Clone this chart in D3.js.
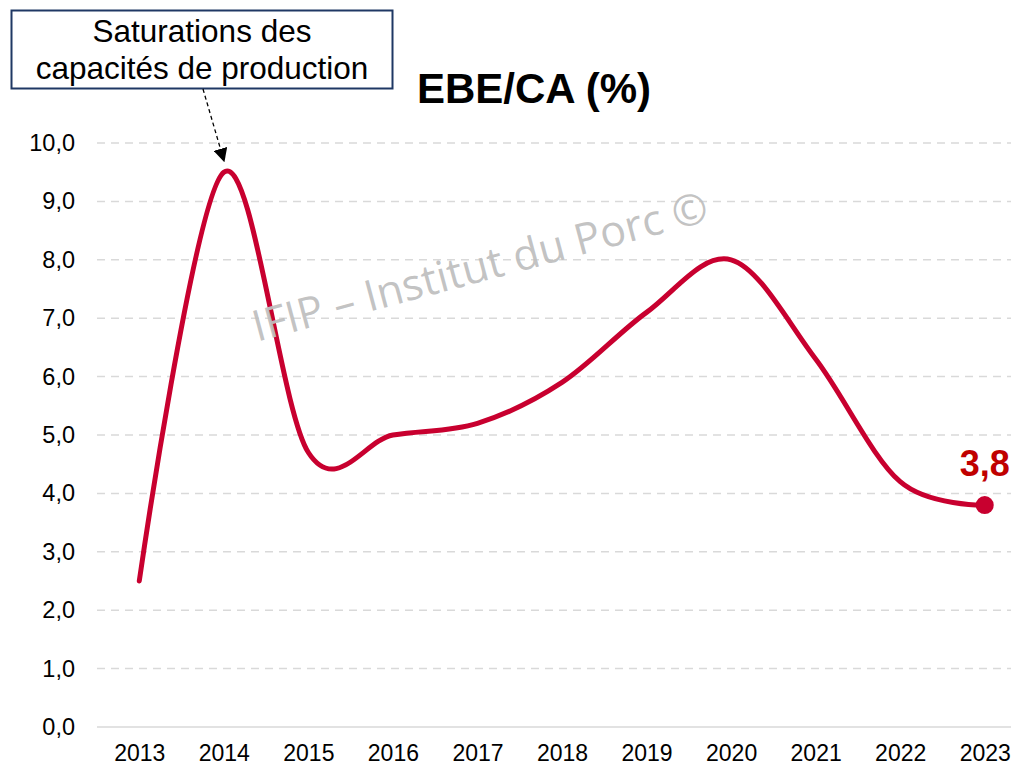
<!DOCTYPE html>
<html><head><meta charset="utf-8">
<script src="https://cdn.jsdelivr.net/npm/d3@7"></script>
<style>body{margin:0;background:#fff}svg{display:block;font-family:Arial,"Liberation Sans",sans-serif}</style>
</head><body>
<svg id="c" width="1011" height="766"></svg>
<script>
const years = ["2013","2014","2015","2016","2017","2018","2019","2020","2021","2022","2023"];
const ebeCa = [2.5, 9.5, 4.7, 5.0, 5.2, 5.9, 7.1, 8.0, 6.3, 4.2, 3.8];
const yTicks = [0,1,2,3,4,5,6,7,8,9,10];
const title = "EBE/CA (%)";
const annotationLines = ["Saturations des", "capacités de production"];
const watermark = "IFIP – Institut du Porc ©";

const svg = d3.select("#c");
const x = d3.scalePoint().domain(years).range([97, 1027]).padding(0.5);
const y = d3.scaleLinear().domain([0, 10]).range([727, 143]);
const fmt = v => d3.format(".1f")(v).replace(".", ",");

// grid
svg.append("g").selectAll("line").data(yTicks.filter(d => d > 0)).join("line")
  .attr("x1", 97).attr("x2", 1011).attr("y1", d => y(d)).attr("y2", d => y(d))
  .attr("stroke", "#d9d9d9").attr("stroke-width", 1.5).attr("stroke-dasharray", "8,6");
svg.append("line").attr("x1", 97).attr("x2", 1011).attr("y1", y(0)).attr("y2", y(0))
  .attr("stroke", "#d9d9d9").attr("stroke-width", 1.5);

// y axis
const ya = svg.append("g").attr("transform", "translate(75,0)")
  .call(d3.axisLeft(y).tickValues(yTicks).tickFormat(fmt).tickSize(0).tickPadding(0));
ya.select(".domain").remove();
ya.selectAll("text").attr("font-size", 23.5).attr("fill", "#000").attr("font-family", "Arial, 'Liberation Sans', sans-serif");

// x axis
const xa = svg.append("g").attr("transform", `translate(0,${y(0)})`)
  .call(d3.axisBottom(x).tickSize(0).tickPadding(17.5));
xa.select(".domain").remove();
xa.selectAll("text").attr("font-size", 23).attr("fill", "#000").attr("font-family", "Arial, 'Liberation Sans', sans-serif");

// line
const data = years.map((yr, i) => ({yr, v: ebeCa[i]}));
svg.append("path").datum(data)
  .attr("d", d3.line().x(d => x(d.yr)).y(d => y(d.v)).curve(d3.curveCatmullRom.alpha(0)))
  .attr("fill", "none").attr("stroke", "#c8002f").attr("stroke-width", 5).attr("stroke-linecap", "round");

const last = data[data.length - 1];
svg.append("circle").attr("cx", x(last.yr)).attr("cy", y(last.v)).attr("r", 9).attr("fill", "#c8002f");
svg.append("text").attr("x", x(last.yr)).attr("y", y(last.v) - 29)
  .attr("text-anchor", "middle").attr("font-size", 36).attr("font-weight", "bold").attr("fill", "#c00000")
  .text(fmt(last.v));

// title
svg.append("text").attr("x", 534).attr("y", 103).attr("text-anchor", "middle")
  .attr("font-size", 42).attr("font-weight", "bold").attr("fill", "#000").text(title);

// annotation box
svg.append("rect").attr("x", 11.5).attr("y", 10.5).attr("width", 381).attr("height", 78)
  .attr("fill", "#fff").attr("stroke", "#1f3864").attr("stroke-width", 2);
svg.append("g").selectAll("text").data(annotationLines).join("text")
  .attr("x", 202).attr("y", (d, i) => 42 + i * 37).attr("text-anchor", "middle")
  .attr("font-size", 31.5).attr("fill", "#000").text(d => d);

// arrow
svg.append("defs").append("marker").attr("id", "ah").attr("viewBox", "0 0 10 10")
  .attr("refX", 9).attr("refY", 5).attr("markerWidth", 14).attr("markerHeight", 14)
  .attr("markerUnits", "userSpaceOnUse").attr("orient", "auto")
  .append("path").attr("d", "M0,0L10,5L0,10Z").attr("fill", "#000");
svg.append("line").attr("x1", 203).attr("y1", 89).attr("x2", 224).attr("y2", 161)
  .attr("stroke", "#000").attr("stroke-width", 1.3).attr("stroke-dasharray", "4,3")
  .attr("marker-end", "url(#ah)");

// watermark
svg.append("text").attr("transform", "translate(484,281) rotate(-15)")
  .attr("text-anchor", "middle").attr("font-size", 43)
  .attr("font-family", "'Open Sans', sans-serif").attr("fill", "#bfbfbf").attr("fill-opacity", 0.95)
  .text(watermark);
</script>
</body></html>
